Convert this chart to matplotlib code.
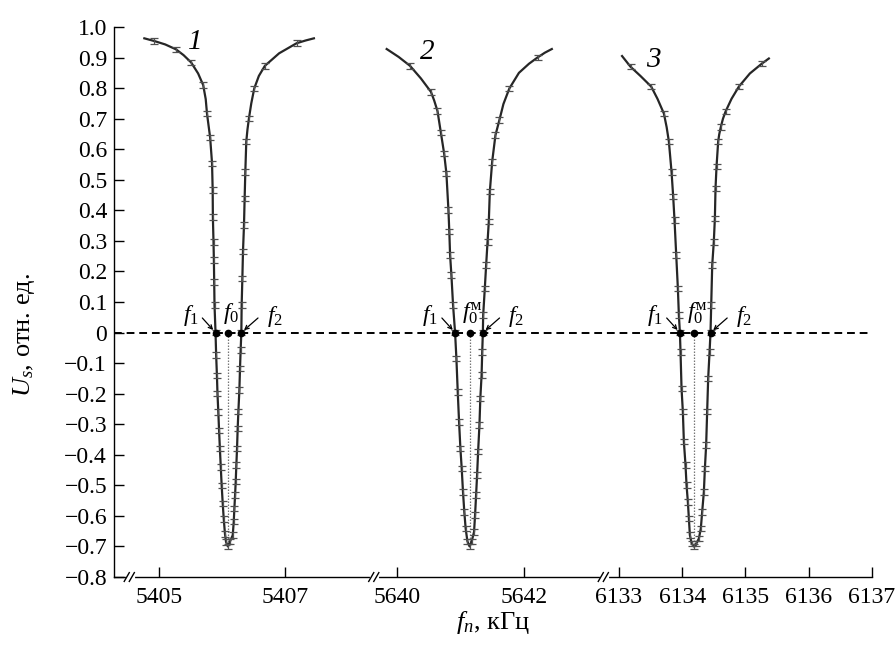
import numpy as np
import matplotlib
matplotlib.use("Agg")
import matplotlib.pyplot as plt
from matplotlib.ticker import FuncFormatter

plt.rcParams['font.family'] = ['Liberation Serif', 'DejaVu Serif']
plt.rcParams['mathtext.fontset'] = 'custom'
plt.rcParams['mathtext.rm'] = 'Liberation Serif'
plt.rcParams['mathtext.it'] = 'Liberation Serif:italic'
plt.rcParams['axes.unicode_minus'] = True

# broken frequency axis: first freq of each segment and where it sits
seg_start = [5405, 5640, 6133]
seg_pos = [0.0, 3.77, 7.27]
seg_ticks = [[5405, 5407], [5640, 5642], [6133, 6134, 6135, 6136, 6137]]

# curve 1 (segment 0): measured points
f_c1 = [5404.77, 5404.93, 5405.27, 5405.51, 5405.70, 5405.76, 5405.81, 5405.84,
        5405.85, 5405.853, 5405.863, 5405.869, 5405.874, 5405.879, 5405.895,
        5405.905, 5405.917, 5405.926, 5405.939, 5405.951, 5405.964, 5405.978,
        5405.992, 5406.009, 5406.025, 5406.045, 5406.061, 5406.09, 5406.125,
        5406.167, 5406.183, 5406.193, 5406.204, 5406.214, 5406.224, 5406.235,
        5406.245, 5406.256, 5406.272, 5406.282, 5406.292, 5406.303, 5406.308,
        5406.319, 5406.329, 5406.345, 5406.355, 5406.366, 5406.381, 5406.423,
        5406.507, 5406.675, 5407.177, 5407.45]
u_c1 = [0.963, 0.954, 0.927, 0.884, 0.810, 0.717, 0.638, 0.554,
        0.466, 0.379, 0.297, 0.237, 0.166, 0.090, 0.0,
        -0.074, -0.14, -0.20, -0.26, -0.32, -0.38, -0.44,
        -0.50, -0.56, -0.61, -0.66, -0.685, -0.70, -0.683,
        -0.663, -0.619, -0.575, -0.532, -0.488, -0.434, -0.379,
        -0.314, -0.259, -0.188, -0.117, -0.057, 0.0, 0.090,
        0.177, 0.265, 0.352, 0.439, 0.526, 0.625, 0.701,
        0.799, 0.873, 0.947, 0.963]
# extra points on the drawn curve (knees), no error bars
f_k1 = [5405.10, 5405.39, 5405.62, 5405.74, 5406.40, 5406.46, 5406.58, 5406.90, 5407.32]
u_k1 = [0.943, 0.908, 0.848, 0.764, 0.665, 0.750, 0.840, 0.914, 0.956]

# curve 2 (segment 1)
f_c2 = [5639.83, 5640.199, 5640.529, 5640.633, 5640.686, 5640.738, 5640.774,
        5640.806, 5640.82, 5640.832, 5640.853, 5640.879, 5640.911, 5640.932,
        5640.953, 5640.974, 5640.995, 5641.016, 5641.036, 5641.057, 5641.078,
        5641.106, 5641.14, 5641.174, 5641.211, 5641.227, 5641.243, 5641.259,
        5641.275, 5641.296, 5641.31, 5641.33, 5641.34, 5641.35, 5641.355,
        5641.381, 5641.402, 5641.424, 5641.444, 5641.46, 5641.497, 5641.549,
        5641.612, 5641.769, 5642.219, 5642.44]
u_c2 = [0.928, 0.873, 0.788, 0.725, 0.655, 0.586, 0.521,
        0.401, 0.33, 0.254, 0.188, 0.090, 0.0, -0.085,
        -0.194, -0.292, -0.379, -0.445, -0.521, -0.587, -0.641,
        -0.683, -0.70, -0.683, -0.652, -0.597, -0.532, -0.466,
        -0.39, -0.303, -0.215, -0.139, -0.063, 0.0, 0.057,
        0.145, 0.221, 0.297, 0.363, 0.461, 0.559, 0.646,
        0.696, 0.799, 0.901, 0.928]
f_k2 = [5640.02, 5640.37, 5640.58, 5641.675, 5641.92, 5642.08, 5642.33]
u_k2 = [0.902, 0.832, 0.760, 0.748, 0.850, 0.880, 0.916]

# curve 3 (segment 2)
f_c3 = [6133.05, 6133.184, 6133.511, 6133.711, 6133.79, 6133.832, 6133.858,
        6133.879, 6133.906, 6133.932, 6133.948, 6133.964, 6133.974, 6133.99,
        6134.011, 6134.027, 6134.053, 6134.069, 6134.09, 6134.106, 6134.122,
        6134.15, 6134.185, 6134.225, 6134.264, 6134.295, 6134.316, 6134.343,
        6134.359, 6134.379, 6134.395, 6134.411, 6134.433, 6134.448, 6134.459,
        6134.475, 6134.50, 6134.517, 6134.527, 6134.543, 6134.569, 6134.61,
        6134.685, 6134.896, 6135.264, 6135.37]
u_c3 = [0.905, 0.870, 0.805, 0.717, 0.625, 0.526, 0.445,
        0.368, 0.254, 0.145, 0.057, 0.0, -0.063, -0.183,
        -0.259, -0.357, -0.434, -0.499, -0.554, -0.608, -0.663,
        -0.69, -0.70, -0.69, -0.674, -0.641, -0.587, -0.521,
        -0.445, -0.368, -0.259, -0.150, -0.063, 0.0, 0.090,
        0.221, 0.297, 0.374, 0.472, 0.543, 0.625, 0.672,
        0.723, 0.805, 0.881, 0.897]
f_k3 = [6133.34, 6133.61, 6133.755, 6134.585, 6134.645, 6134.78, 6135.07]
u_k3 = [0.840, 0.765, 0.672, 0.648, 0.700, 0.765, 0.848]

u_err = 0.009

f1_res = [5405.895, 5640.911, 6133.964]
f0_res = [5406.09, 5641.14, 6134.185]
f2_res = [5406.303, 5641.35, 6134.448]
u_min = [-0.70, -0.70, -0.70]
f0_names = ['$f_0$', r'$f_0^{\mathrm{м}}$', r'$f_0^{\mathrm{м}}$']
curve_names = ['1', '2', '3']
name_pos = [(5405.57, 0.950), (5640.47, 0.918), (6133.55, 0.892)]

y_ticks = np.round(np.arange(-0.8, 1.01, 0.1), 1)


def axis_x(f, seg):
    return np.asarray(f, dtype=float) - seg_start[seg] + seg_pos[seg]


fig = plt.figure(figsize=(8.96, 6.45), dpi=100)
ax = fig.add_axes([0.1272, 0.1054, 0.8460, 0.8527])

line_col = '#262626'
err_col = '#505050'

ax.axhline(0, color='black', lw=1.4, ls=(0, (4, 2.5)), zorder=1)

curves = [(f_c1, u_c1, f_k1, u_k1), (f_c2, u_c2, f_k2, u_k2), (f_c3, u_c3, f_k3, u_k3)]
for seg, (f, u, fk, uk) in enumerate(curves):
    x = axis_x(f, seg)
    u = np.asarray(u)
    xl = np.concatenate([x, axis_x(fk, seg)])
    ul = np.concatenate([u, uk])
    order = np.argsort(xl)
    ax.plot(xl[order], ul[order], color=line_col, lw=1.6, zorder=3)
    ax.errorbar(x[1:-1], u[1:-1], yerr=u_err, fmt='none', ecolor=err_col,
                elinewidth=0.9, capsize=2.8, capthick=0.9, zorder=4)

    x1 = axis_x(f1_res[seg], seg)
    x0 = axis_x(f0_res[seg], seg)
    x2 = axis_x(f2_res[seg], seg)
    ax.plot([x0, x0], [0, u_min[seg]], color='#777777', lw=0.9, ls=(0, (1.2, 1.2)), zorder=2)
    ax.plot([x1, x0, x2], [0, 0, 0], 'o', color='black', ms=4.5, zorder=5)

    tkw = dict(fontsize=17, ha='center', va='center', textcoords='offset points')
    ax.annotate('$f_1$', xy=(x1, 0), xytext=(-18, 12), **tkw)
    ax.annotate(f0_names[seg], xy=(x0, 0), xytext=(2, 14), **tkw)
    ax.annotate('$f_2$', xy=(x2, 0), xytext=(24, 11.5), **tkw)
    akw = dict(arrowstyle='->', lw=0.9, color='black', shrinkA=0, shrinkB=2.5, mutation_scale=7)
    ax.annotate('', xy=(x1, 0), xytext=(-9.5, 10.5), textcoords='offset points', arrowprops=akw)
    ax.annotate('', xy=(x2, 0), xytext=(12, 10.5), textcoords='offset points', arrowprops=akw)

    nx, ny = name_pos[seg]
    ax.text(axis_x(nx, seg), ny, curve_names[seg], fontsize=21, style='italic',
            ha='center', va='center')

ax.set_xlim(-0.71, axis_x(6137, 2))
ax.set_ylim(-0.8, 1.0)

tick_x = []
tick_lab = []
for seg, ticks in enumerate(seg_ticks):
    for t in ticks:
        tick_x.append(axis_x(t, seg))
        tick_lab.append(str(t))
ax.set_xticks(tick_x)
ax.set_xticklabels(tick_lab)
ax.set_yticks(y_ticks)
ax.yaxis.set_major_formatter(FuncFormatter(
    lambda v, p: '0' if abs(v) < 1e-9 else ('%.1f' % v).replace('-', '\u2212')))

for s in ['top', 'right']:
    ax.spines[s].set_visible(False)
ax.spines['left'].set_linewidth(1.0)
ax.spines['bottom'].set_linewidth(1.0)
ax.tick_params(direction='in', length=7, width=1.0, labelsize=17, pad=5)
ax.tick_params(axis='x', pad=7)

# break marks on the frequency axis
trans = ax.get_xaxis_transform()
for bx in [-0.473, 3.391, 7.019]:
    ax.plot([bx - 0.02, bx + 0.06], [0.0, 0.0], color='white', lw=3,
            transform=trans, clip_on=False, zorder=6)
    for dx in [-0.035, 0.045]:
        ax.plot([bx + dx - 0.04, bx + dx + 0.04], [-0.008, 0.008], color='black',
                lw=1.0, transform=trans, clip_on=False, zorder=7)

ax.set_xlabel('$f_n$, кГц', fontsize=19, labelpad=1)
ax.set_ylabel('$U_s$, отн. ед.', fontsize=19)
ax.yaxis.set_label_coords(-0.102, 0.44)

fig.savefig('out.png', dpi=100)
